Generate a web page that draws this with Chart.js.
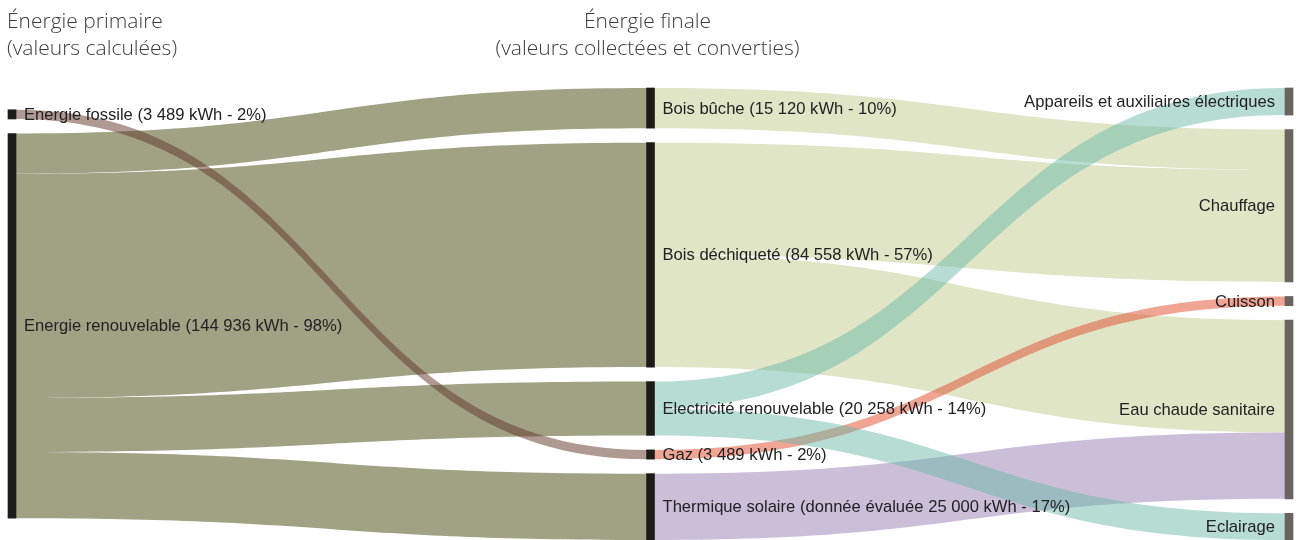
<!DOCTYPE html>
<html>
<head>
<meta charset="utf-8">
<script src="https://cdn.jsdelivr.net/npm/chart.js@4.4.1/dist/chart.umd.min.js"></script>
<style>
  html, body { margin: 0; padding: 0; background: #fff; }
  #wrap { width: 1301px; height: 540px; position: relative; }
</style>
</head>
<body>
<div id="wrap"><canvas id="sankey"></canvas></div>
<script>
// Noeuds (dans l'ordre de chaque colonne)
const nodes = [
  "Energie fossile", "Energie renouvelable",
  "Bois bûche", "Bois déchiqueté", "Electricité renouvelable", "Gaz", "Thermique solaire",
  "Appareils et auxiliaires électriques", "Chauffage", "Cuisson", "Eau chaude sanitaire", "Eclairage"
];
const nodeColumns = [0, 0, 1, 1, 1, 1, 1, 2, 2, 2, 2, 2];
const nodeLabels = [
  "Energie fossile (3 489 kWh - 2%)",
  "Energie renouvelable (144 936 kWh - 98%)",
  "Bois bûche (15 120 kWh - 10%)",
  "Bois déchiqueté (84 558 kWh - 57%)",
  "Electricité renouvelable (20 258 kWh - 14%)",
  "Gaz (3 489 kWh - 2%)",
  "Thermique solaire (donnée évaluée 25 000 kWh - 17%)",
  "Appareils et auxiliaires électriques",
  "Chauffage",
  "Cuisson",
  "Eau chaude sanitaire",
  "Eclairage"
];

// Flux (kWh)
const linkSources = [
  "Energie renouvelable", "Energie renouvelable", "Energie renouvelable", "Energie renouvelable",
  "Energie fossile",
  "Bois bûche", "Bois déchiqueté", "Bois déchiqueté",
  "Thermique solaire", "Gaz",
  "Electricité renouvelable", "Electricité renouvelable"
];
const linkTargets = [
  "Bois bûche", "Bois déchiqueté", "Electricité renouvelable", "Thermique solaire",
  "Gaz",
  "Chauffage", "Chauffage", "Eau chaude sanitaire",
  "Eau chaude sanitaire", "Cuisson",
  "Appareils et auxiliaires électriques", "Eclairage"
];
const linkValues = [15120, 84558, 20258, 25000, 3489, 15120, 42279, 42279, 25000, 3489, 10200, 10058];

const columnTitles = [
  ["Énergie primaire", "(valeurs calculées)"],
  ["Énergie finale", "(valeurs collectées et converties)"]
];

// Styles
const NODE_WIDTH = 8;
const NODE_PAD = 5460; // espace entre noeuds, en unités de la valeur
const linkColors = {
  "Energie renouvelable": "#a1a284",
  "Energie fossile": "rgba(95, 52, 40, 0.5)",
  "Bois bûche": "rgba(196, 207, 150, 0.55)",
  "Bois déchiqueté": "rgba(196, 207, 150, 0.55)",
  "Electricité renouvelable": "rgba(110, 185, 170, 0.5)",
  "Gaz": "rgba(225, 90, 60, 0.55)",
  "Thermique solaire": "rgba(150, 125, 180, 0.5)"
};

// Mise en page : valeur de chaque noeud, empilement par colonne
const nodeValue = nodes.map((n) => {
  let inSum = 0, outSum = 0;
  linkValues.forEach((v, i) => {
    if (linkSources[i] === n) outSum += v;
    if (linkTargets[i] === n) inSum += v;
  });
  return Math.max(inSum, outSum);
});

const colTotals = [0, 1, 2].map(c => {
  const idx = nodes.map((_, i) => i).filter(i => nodeColumns[i] === c);
  return idx.reduce((s, i) => s + nodeValue[i], 0) + NODE_PAD * (idx.length - 1);
});
const maxTotal = Math.max(...colTotals);

const nodeY0 = [], nodeY1 = [];
[0, 1, 2].forEach(c => {
  let y = (maxTotal - colTotals[c]) / 2;
  nodes.forEach((n, i) => {
    if (nodeColumns[i] !== c) return;
    nodeY0[i] = y;
    nodeY1[i] = y + nodeValue[i];
    y = nodeY1[i] + NODE_PAD;
  });
});

// Positions des flux aux extrémités
const links = linkValues.map((v, i) => ({
  s: nodes.indexOf(linkSources[i]),
  t: nodes.indexOf(linkTargets[i]),
  value: v,
  color: linkColors[linkSources[i]]
}));
nodes.forEach((n, ni) => {
  let y = nodeY0[ni];
  links.filter(l => l.s === ni)
    .sort((a, b) => nodeY0[a.t] - nodeY0[b.t])
    .forEach(l => { l.sy0 = y; y += l.value; l.sy1 = y; });
  y = nodeY0[ni];
  links.filter(l => l.t === ni)
    .sort((a, b) => nodeY0[a.s] - nodeY0[b.s])
    .forEach(l => { l.ty0 = y; y += l.value; l.ty1 = y; });
});

const sankeyPlugin = {
  id: "sankeyLinks",
  beforeDatasetsDraw(chart) {
    const { ctx, scales: { x, y } } = chart;
    links.forEach(l => {
      const x0 = x.getPixelForValue(nodeColumns[l.s]) + NODE_WIDTH / 2;
      const x1 = x.getPixelForValue(nodeColumns[l.t]) - NODE_WIDTH / 2;
      const xm = (x0 + x1) / 2;
      const a0 = y.getPixelForValue(l.sy0), a1 = y.getPixelForValue(l.sy1);
      const b0 = y.getPixelForValue(l.ty0), b1 = y.getPixelForValue(l.ty1);
      ctx.save();
      ctx.beginPath();
      ctx.moveTo(x0, a0);
      ctx.bezierCurveTo(xm, a0, xm, b0, x1, b0);
      ctx.lineTo(x1, b1);
      ctx.bezierCurveTo(xm, b1, xm, a1, x0, a1);
      ctx.closePath();
      ctx.fillStyle = l.color;
      ctx.fill();
      ctx.restore();
    });
  },
  afterDatasetsDraw(chart) {
    const { ctx, scales: { x, y } } = chart;
    ctx.save();
    ctx.fillStyle = "#222";
    ctx.font = '16.6px Arial, "Liberation Sans", sans-serif';
    ctx.textBaseline = "middle";
    nodes.forEach((n, i) => {
      const cx = x.getPixelForValue(nodeColumns[i]);
      const cy = (y.getPixelForValue(nodeY0[i]) + y.getPixelForValue(nodeY1[i])) / 2;
      if (nodeColumns[i] < 2) {
        ctx.textAlign = "left";
        ctx.fillText(nodeLabels[i], cx + NODE_WIDTH / 2 + 8, cy + 1);
      } else {
        ctx.textAlign = "right";
        ctx.fillText(nodeLabels[i], cx - NODE_WIDTH / 2 - 10, cy + 1);
      }
    });

    // titres des colonnes
    ctx.fillStyle = "#3c3c3c";
    ctx.font = '300 21px "Open Sans", sans-serif';
    ctx.textBaseline = "alphabetic";
    ctx.textAlign = "left";
    columnTitles[0].forEach((t, k) => ctx.fillText(t, 7, 28 + k * 27));
    ctx.textAlign = "center";
    columnTitles[1].forEach((t, k) => ctx.fillText(t, x.getPixelForValue(1) - 3, 28 + k * 27));
    ctx.restore();
  }
};

new Chart(document.getElementById("sankey"), {
  type: "bar",
  data: {
    datasets: [{
      label: "Noeuds",
      data: nodes.map((n, i) => ({ x: nodeColumns[i], y: [nodeY0[i], nodeY1[i]] })),
      backgroundColor: nodes.map((n, i) => nodeColumns[i] === 2 ? "#6b6360" : "#1d1b18"),
      barThickness: NODE_WIDTH,
      clip: false
    }]
  },
  options: {
    responsive: true,
    maintainAspectRatio: false,
    animation: false,
    layout: { padding: { top: 88, bottom: 0, left: 12, right: 12 } },
    plugins: { legend: { display: false }, tooltip: { enabled: false } },
    scales: {
      x: { type: "linear", min: 0, max: 2, offset: false, display: false },
      y: { min: 0, max: maxTotal, reverse: true, display: false }
    }
  },
  plugins: [sankeyPlugin]
});
</script>
</body>
</html>
